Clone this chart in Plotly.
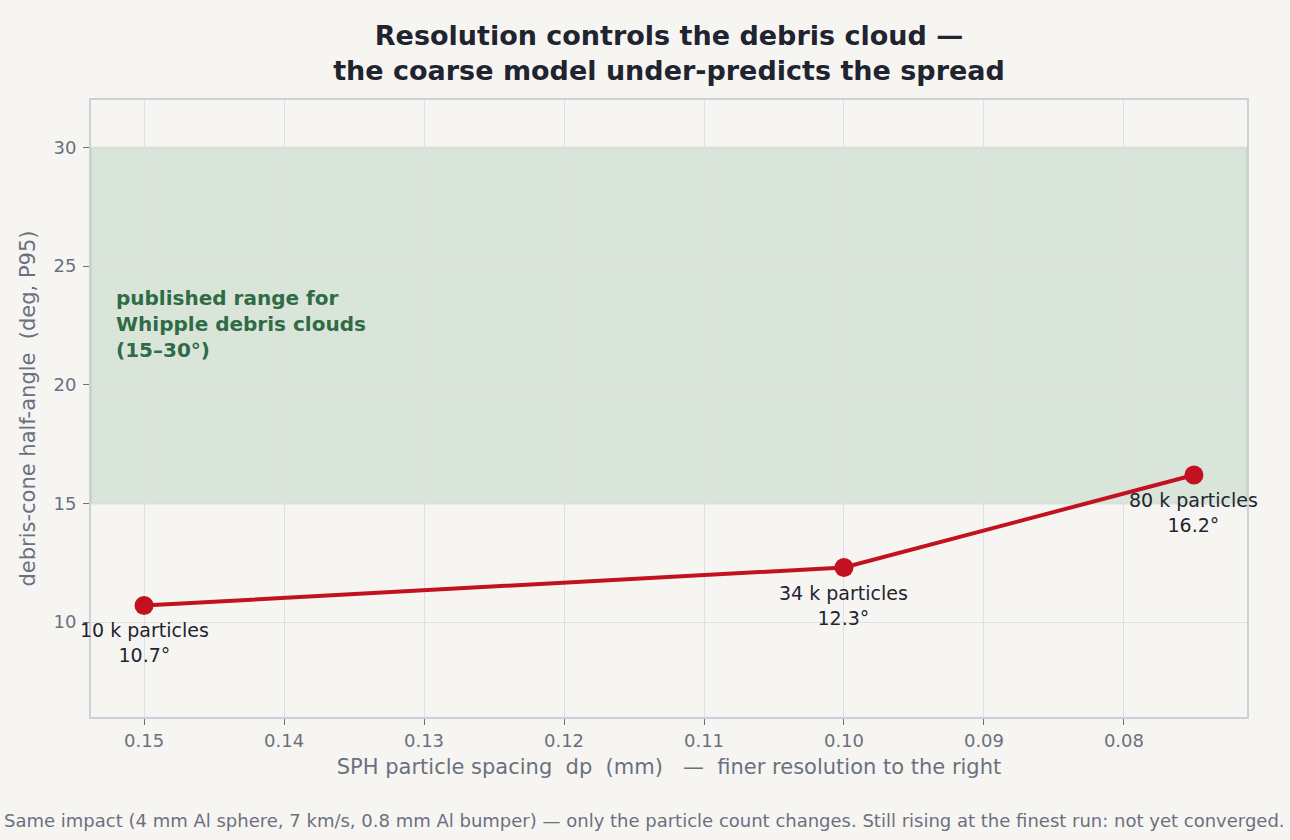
import plotly.graph_objects as go

# run data
spacing_mm = [0.15, 0.10, 0.075]
half_angle = [10.7, 12.3, 16.2]
particles_k = [10, 34, 80]

band_lo, band_hi = 15, 30
x_ticks = [0.15, 0.14, 0.13, 0.12, 0.11, 0.10, 0.09, 0.08]
x_ticklabels = ["0.15", "0.14", "0.13", "0.12", "0.11", "0.10", "0.09", "0.08"]
y_ticks = [10, 15, 20, 25, 30]

bg = "#f7f5f2"
grid = "#dfe0e5"
axis_grey = "#6b7080"
red = "#c3121f"
font = "DejaVu Sans"

fig = go.Figure()

# published range band
fig.add_hrect(y0=band_lo, y1=band_hi, fillcolor="#dae5da", opacity=1,
              line=dict(color="#bfd3c3", width=1.5), layer="below")

fig.add_trace(go.Scatter(
    x=spacing_mm, y=half_angle, mode="lines+markers",
    line=dict(color=red, width=4),
    marker=dict(color=red, size=19),
    cliponaxis=False, showlegend=False, hoverinfo="skip",
))

# labels under each run
for x, a, p in zip(spacing_mm, half_angle, particles_k):
    fig.add_annotation(
        x=x, y=a, xref="x", yref="y", xanchor="center", yanchor="top",
        yshift=-12, showarrow=False, align="center",
        text=f"{p} k particles<br>{a:.1f}°",
        font=dict(family=font, size=19, color="#1f2430"),
    )

fig.add_annotation(
    x=0.15215, y=22.55, xref="x", yref="y", xanchor="left", yanchor="middle",
    text="<b>published range for<br>Whipple debris clouds<br>(15–30°)</b>",
    showarrow=False, align="left",
    font=dict(family=font, size=20, color="#2f6b45"),
)

# caption centred on the page, not the plot area
fig.add_annotation(
    x=0.4792, y=0, xref="paper", yref="paper", yanchor="middle",
    xanchor="center", yshift=-103,
    text="Same impact (4 mm Al sphere, 7 km/s, 0.8 mm Al bumper) — only the particle count changes. "
         "Still rising at the finest run: not yet converged.",
    showarrow=False, font=dict(family=font, size=18, color=axis_grey),
)

fig.update_layout(
    width=1290, height=840,
    paper_bgcolor=bg, plot_bgcolor=bg,
    margin=dict(l=91, r=43, t=100, b=123),
    font=dict(family=font, color=axis_grey),
    title=dict(
        text="<b>Resolution controls the debris cloud —<br>the coarse model under-predicts the spread</b>",
        xref="paper", x=0.5, xanchor="center", y=0.947, yanchor="middle",
        font=dict(family=font, size=27, color="#1f2430"),
    ),
)

fig.update_xaxes(
    range=[0.15379, 0.07121], tickvals=x_ticks, ticktext=x_ticklabels,
    showgrid=True, gridcolor=grid, zeroline=False,
    showline=True, linecolor="#cdd0d8", linewidth=2, mirror=True,
    ticks="outside", ticklen=6, tickcolor=axis_grey,
    tickfont=dict(family=font, size=18, color=axis_grey),
    title=dict(text="SPH particle spacing  dp  (mm)   —  finer resolution to the right",
               font=dict(family=font, size=21, color=axis_grey), standoff=10),
)
fig.update_yaxes(
    range=[6, 32], tickvals=y_ticks,
    showgrid=True, gridcolor=grid, zeroline=False,
    showline=True, linecolor="#cdd0d8", linewidth=2, mirror=True,
    ticks="outside", ticklen=6, tickcolor=axis_grey, ticklabelstandoff=3,
    tickfont=dict(family=font, size=18, color=axis_grey),
    title=dict(text="debris-cone half-angle  (deg, P95)",
               font=dict(family=font, size=21, color=axis_grey), standoff=12),
)

fig.write_html("out.html", config={"displayModeBar": False},
               post_script="document.body.style.margin='0';")
